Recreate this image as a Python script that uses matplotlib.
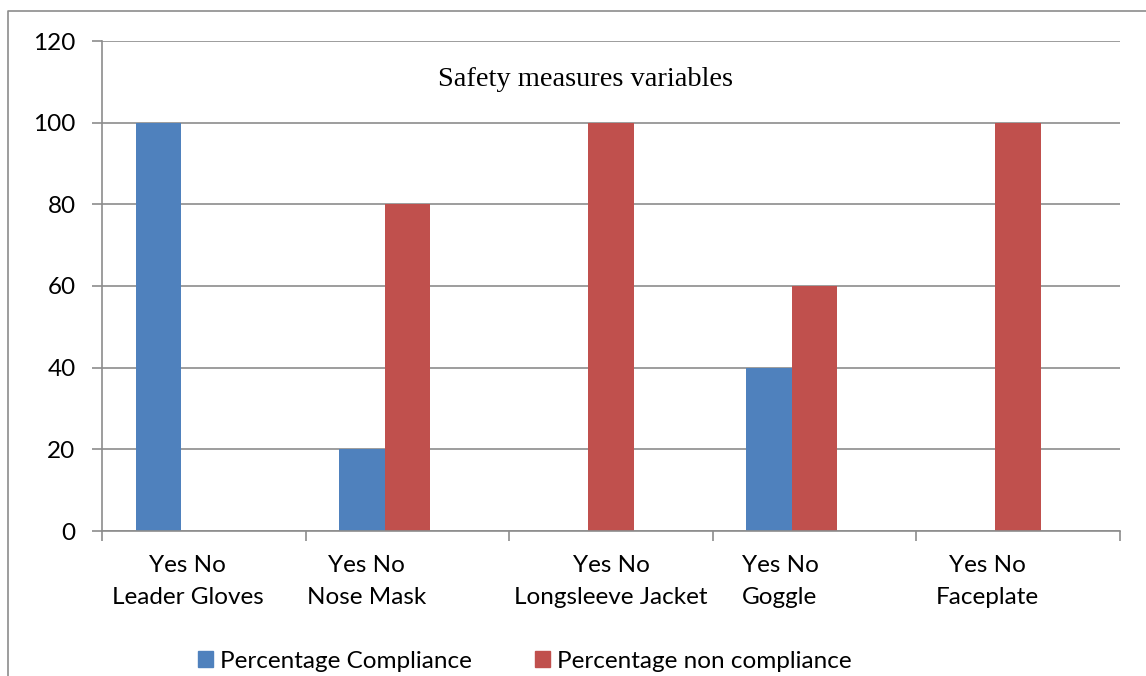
import numpy as np
import matplotlib.pyplot as plt
from matplotlib.lines import Line2D
from matplotlib.patches import Patch
import matplotlib.transforms as mtransforms

categories = ["Leader Gloves", "Nose Mask", "Longsleeve Jacket", "Goggle", "Faceplate"]
compliance = [100, 20, 0, 40, 0]
non_compliance = [0, 80, 100, 60, 100]
label_shift = [-0.08, -0.2, 0.0, -0.17, -0.15]

blue = "#4F81BD"
red = "#C0504D"
grey = "#8C8C8C"

plt.rcParams['font.family'] = ['Lato', 'DejaVu Sans']

fig = plt.figure(figsize=(11.46, 6.76), dpi=100)
ax = fig.add_axes([102 / 1146, 1 - 531 / 676, 1018 / 1146, 490 / 676])

x = np.arange(len(categories))
w = 0.223
ax.bar(x - w, compliance, width=w, color=blue, label="Percentage Compliance")
ax.bar(x, non_compliance, width=w, color=red, label="Percentage non compliance")

ax.set_xlim(-0.5, len(categories) - 0.5)
ax.set_ylim(0, 120)
ax.set_yticks(range(0, 121, 20))
ax.yaxis.grid(True, color=grey, linewidth=1.2)
ax.set_axisbelow(True)
ax.tick_params(axis='y', labelsize=17.5, length=7, color=grey, width=1.2, pad=12)

ax.set_xticks(np.arange(-0.5, len(categories), 1.0))
ax.set_xticklabels([])
ax.tick_params(axis='x', length=7, color=grey, width=1.2)

for s in ["top", "right"]:
    ax.spines[s].set_visible(False)
for s in ["left", "bottom"]:
    ax.spines[s].set_color(grey)
    ax.spines[s].set_linewidth(1.2)

trans = mtransforms.blended_transform_factory(ax.transData, fig.transFigure)
for i, name in enumerate(categories):
    ax.text(i + label_shift[i], 1 - 566 / 676, "Yes No", transform=trans,
            ha='center', va='center', fontsize=17.5)
    ax.text(i + label_shift[i], 1 - 598 / 676, name, transform=trans,
            ha='center', va='center', fontsize=17.5)

fig.text(586 / 1146, 1 - 80 / 676, "Safety measures variables",
         family='Liberation Serif', fontsize=20.5, ha='center', va='center')

handles = [Patch(color=blue), Patch(color=red)]
fig.legend(handles, ["Percentage Compliance", "Percentage non compliance"],
           loc='center', bbox_to_anchor=(525 / 1146, 1 - 661 / 676), ncol=2,
           frameon=False, fontsize=17.5, handlelength=0.6, handleheight=0.6,
           handletextpad=0.3, columnspacing=2.6, borderpad=0, borderaxespad=0)

x0 = 8 / 1146
y0 = 1 - 11 / 676
fig.add_artist(Line2D([x0, x0, 1], [0, y0, y0], transform=fig.transFigure,
                      color=grey, linewidth=1.2))

fig.savefig("out.png", dpi=100)
